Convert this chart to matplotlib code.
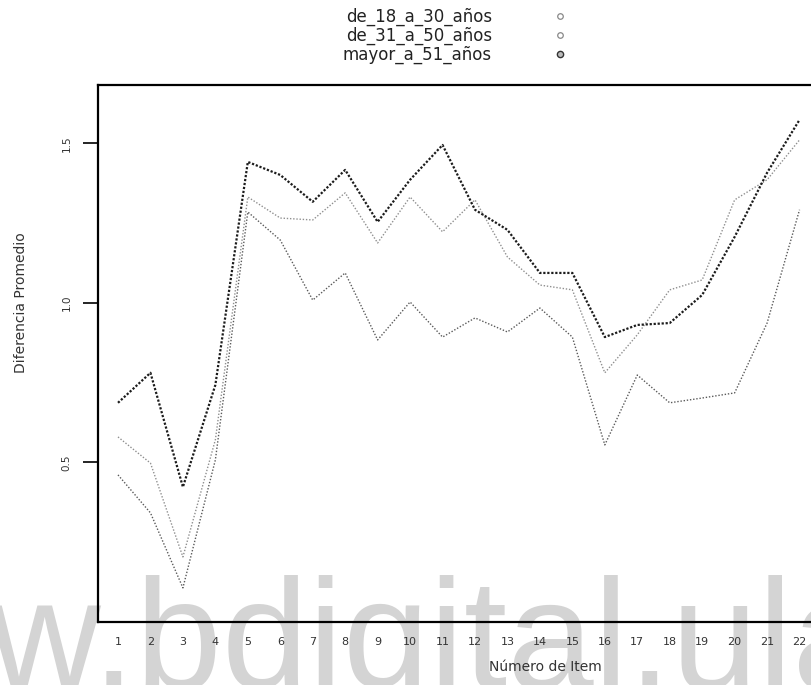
import numpy as np
import matplotlib.pyplot as plt
from matplotlib.lines import Line2D

# item numbers on the x axis
items = list(range(1, 23))

# average difference per item for each age group
edad_18_30 = [0.461, 0.342, 0.107, 0.508, 1.285, 1.197, 1.009, 1.094, 0.884, 1.003, 0.893,
              0.953, 0.909, 0.984, 0.893, 0.555, 0.774, 0.687, 0.702, 0.718, 0.937, 1.292]
edad_31_50 = [0.580, 0.498, 0.204, 0.571, 1.332, 1.266, 1.260, 1.345, 1.188, 1.332, 1.223,
              1.323, 1.144, 1.056, 1.041, 0.781, 0.900, 1.041, 1.072, 1.323, 1.386, 1.511]
mayor_51 = [0.687, 0.781, 0.423, 0.743, 1.442, 1.401, 1.317, 1.417, 1.254, 1.386, 1.495,
            1.292, 1.229, 1.094, 1.094, 0.893, 0.931, 0.937, 1.025, 1.207, 1.408, 1.574]

group_names = ['de_18_a_30_años', 'de_31_a_50_años', 'mayor_a_51_años']
y_ticks = [0.5, 1.0, 1.5]


def plot_result(series):
    """
    Plot the average difference per item for every age group as dotted lines

    :param series: list of value lists, one per age group
    :return: None
    """
    fig = plt.figure(figsize=(8.12, 6.85), dpi=100)

    # site watermark sitting behind the plot
    fig.text(-0.29, -0.004, 'www.bdigital.ula', fontsize=112, color='#d4d4d4',
             family='Liberation Sans', ha='left', va='baseline', zorder=-5)

    # the plot box runs past the right edge of the page
    ax = fig.add_axes([98 / 812, 1 - 622 / 685, 894 / 812, 537 / 685])
    ax.set_facecolor('none')

    styles = [
        dict(color='#5a5a5a', lw=1.0, ls=(0, (1, 1.3))),
        dict(color='#8f8f8f', lw=1.0, ls=(0, (1, 1.3))),
        dict(color='#1c1c1c', lw=1.6, ls=(0, (1, 0.8))),
    ]
    for values, style in zip(series, styles):
        ax.plot(items, values, **style)

    ax.set_xlim(0.3837, 27.93)
    ax.set_ylim(0.0, 1.683)

    for side in ['top', 'left', 'bottom']:
        ax.spines[side].set_linewidth(1.6)
        ax.spines[side].set_color('black')
    ax.spines['right'].set_visible(False)

    ax.set_xticks(items)
    ax.set_xticklabels([str(i) for i in items])
    ax.tick_params(axis='x', length=0, pad=11, labelsize=8, labelcolor='#333333')

    ax.set_yticks(y_ticks)
    ax.set_yticklabels(['%.1f' % t for t in y_ticks])
    ax.tick_params(axis='y', length=11, width=1.2, pad=8, labelsize=7.5, labelcolor='#333333')
    plt.setp(ax.get_yticklabels(), rotation=90, va='center')

    ax.set_xlabel('Número de Item', fontsize=10, color='#333333')
    ax.xaxis.set_label_coords(545 / 812, 1 - 660 / 685, transform=fig.transFigure)
    ax.set_ylabel('Diferencia Promedio', fontsize=10, color='#333333')
    ax.yaxis.set_label_coords(28 / 812, 1 - 303 / 685, transform=fig.transFigure)

    # legend above the plot, markers to the right of the names
    markers = [
        Line2D([], [], ls='none', marker='o', ms=4, mfc='white', mec='#888888', mew=0.9),
        Line2D([], [], ls='none', marker='o', ms=4, mfc='white', mec='#888888', mew=0.9),
        Line2D([], [], ls='none', marker='o', ms=4.5, mfc='#bbbbbb', mec='#333333', mew=1.0),
    ]
    fig.legend(markers, group_names, loc='upper left', bbox_to_anchor=(331 / 812, 1.0 + 4 / 685),
               frameon=False, markerfirst=False, fontsize=12, labelspacing=0.05,
               handletextpad=3.6, handlelength=1.0, borderaxespad=0.3,
               labelcolor='#222222')

    plt.savefig('out.png', dpi=100)


if __name__ == "__main__":
    plot_result([edad_18_30, edad_31_50, mayor_51])
